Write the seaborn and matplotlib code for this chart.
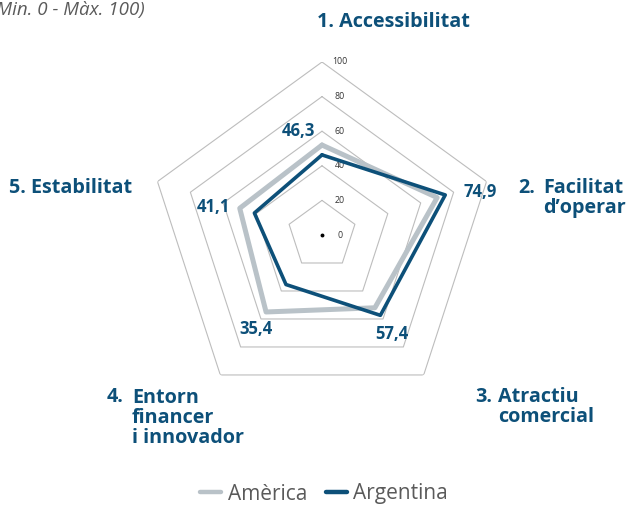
import numpy as np
import pandas as pd
import matplotlib
matplotlib.use('Agg')
import matplotlib.pyplot as plt
import seaborn as sns

categories = ['1. Accessibilitat', '2. Facilitat d\u2019operar', '3. Atractiu comercial',
              '4. Entorn financer i innovador', '5. Estabilitat']
america = [52.0, 70.0, 52.0, 55.0, 50.0]
argentina = [46.3, 74.9, 57.4, 35.4, 41.1]
ring_values = [20, 40, 60, 80, 100]
tick_labels = ['0', '20', '40', '60', '80', '100']

dark_blue = '#0d5079'
light_gray = '#b9c2c8'
grid_col = '#bdbdbd'
text_gray = '#5a5a5a'

sns.set_theme(style='white')
plt.rcParams['font.family'] = ['Open Sans', 'DejaVu Sans']

W, H = 630, 508
fig = plt.figure(figsize=(W / 100, H / 100), dpi=100)

def fx(x):
    return x / W

def fy(y):
    return 1 - y / H

cx, cy, R = 322, 235, 173
ax = fig.add_axes([fx(cx - R), fy(cy + R), 2 * R / W, 2 * R / H], projection='polar')
ax.set_theta_offset(np.pi / 2)
ax.set_theta_direction(-1)
ax.set_ylim(0, 100)
ax.grid(False)
ax.set_xticks([])
ax.set_yticks([])
ax.spines['polar'].set_visible(False)
ax.patch.set_alpha(0)

n = len(categories)
theta = np.linspace(0, 2 * np.pi, n, endpoint=False)
theta_closed = np.append(theta, 2 * np.pi)

# pentagon grid
for rv in ring_values:
    ax.plot(theta_closed, [rv] * (n + 1), color=grid_col, lw=0.8, zorder=1)
ax.plot([0], [0], marker='o', ms=1.8, color='black', zorder=2)

# ring labels
for lab in tick_labels:
    ax.annotate(lab, xy=(0, float(lab)), xytext=(18, 0), textcoords='offset pixels',
                ha='center', va='center', fontsize=6.3, color='#333333')

df = pd.DataFrame({
    'theta': np.concatenate([theta_closed, theta_closed]),
    'value': america + [america[0]] + argentina + [argentina[0]],
    'serie': ['Amèrica'] * (n + 1) + ['Argentina'] * (n + 1),
})
sns.lineplot(data=df[df.serie == 'Amèrica'], x='theta', y='value', sort=False,
             estimator=None, color=light_gray, lw=3.6, ax=ax, zorder=3)
sns.lineplot(data=df[df.serie == 'Argentina'], x='theta', y='value', sort=False,
             estimator=None, color=dark_blue, lw=2.6, ax=ax, zorder=4)
ax.set_xlabel('')
ax.set_ylabel('')

# value labels (Argentina)
offsets = [(-24, 24), (35, 3), (12, -19), (-30, -44), (-41, 6)]
for t, v, (dx, dy) in zip(theta, argentina, offsets):
    ax.annotate(f'{v:.1f}'.replace('.', ','), xy=(t, v), xytext=(dx, dy),
                textcoords='offset pixels', ha='center', va='center',
                fontsize=12, fontweight='bold', color=dark_blue)

# category labels
lab_kw = dict(fontsize=14.2, fontweight='bold', color=dark_blue, va='baseline',
              ha='left', linespacing=1.0)
fig.text(fx(317), fy(27), '1. Accessibilitat', **lab_kw)
fig.text(fx(518), fy(193), '2.', **lab_kw)
fig.text(fx(543), fy(213), 'Facilitat\nd\u2019operar', **lab_kw)
fig.text(fx(475), fy(402), '3.', **lab_kw)
fig.text(fx(498), fy(422), 'Atractiu\ncomercial', **lab_kw)
fig.text(fx(107), fy(402), '4.', **lab_kw)
fig.text(fx(132), fy(443), 'Entorn\nfinancer\ni innovador', **lab_kw)
fig.text(fx(9), fy(193), '5. Estabilitat', **lab_kw)

# subtitle (clipped at left edge)
fig.text(fx(145), fy(15), '(Min. 0 - Màx. 100)', fontsize=13.5, style='italic',
         color=text_gray, ha='right', va='baseline')

# legend
handles = [plt.Line2D([], [], color=light_gray, lw=3.2),
           plt.Line2D([], [], color=dark_blue, lw=3.2)]
fig.legend(handles, ['Amèrica', 'Argentina'], loc='center', bbox_to_anchor=(fx(324), fy(494)),
           ncol=2, frameon=False, fontsize=15, labelcolor=text_gray,
           handlelength=1.0, handletextpad=0.3, columnspacing=0.9, borderpad=0)

fig.savefig('out.png', dpi=100)
